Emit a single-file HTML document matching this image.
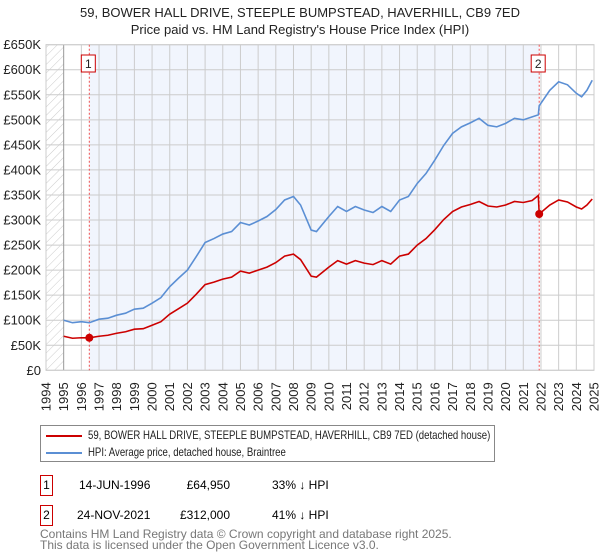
<!DOCTYPE html>
<html><head><meta charset="utf-8"><style>
body{margin:0;background:#fff;font-family:"Liberation Sans","DejaVu Sans",sans-serif;}
#wrap{position:relative;width:600px;height:560px;overflow:hidden}
.t{position:absolute;white-space:nowrap}
.sq{transform:scaleX(0.8);transform-origin:left center}
</style></head><body><div id="wrap">
<svg id="svg" width="600" height="420" style="position:absolute;left:0;top:0">
<defs><pattern id="hatch" width="6" height="6" patternUnits="userSpaceOnUse" patternTransform="rotate(45)"><line x1="0" y1="0" x2="0" y2="6" stroke="#ccc" stroke-width="1"/></pattern></defs>
<text x="300" y="17" text-anchor="middle" font-size="13" fill="#222">59, BOWER HALL DRIVE, STEEPLE BUMPSTEAD, HAVERHILL, CB9 7ED</text>
<text x="300" y="34" text-anchor="middle" font-size="13" fill="#222">Price paid vs. HM Land Registry's House Price Index (HPI)</text>
<g id="g"></g>
</svg>
<div class="t" style="left:40px;top:425px;width:453px;height:35px;border:1px solid #888">
 <div style="position:absolute;left:5px;top:9px;width:36px;height:2px;background:#cc0000"></div>
 <div class="t sq" style="left:47px;top:2px;font-size:12px;color:#222">59, BOWER HALL DRIVE, STEEPLE BUMPSTEAD, HAVERHILL, CB9 7ED (detached house)</div>
 <div style="position:absolute;left:5px;top:26px;width:36px;height:2px;background:#5b8fd4"></div>
 <div class="t sq" style="left:47px;top:19px;font-size:12px;color:#222">HPI: Average price, detached house, Braintree</div>
</div>
<div class="t" style="left:40px;top:475px;width:11px;height:19px;border:1px solid #cc0000;font-size:12px;text-align:center;line-height:19px">1</div>
<div class="t" style="left:79px;top:478px;font-size:12px">14-JUN-1996</div>
<div class="t" style="left:160px;top:478px;width:70px;text-align:right;font-size:12px">£64,950</div>
<div class="t" style="left:272px;top:478px;font-size:12px">33% ↓ HPI</div>
<div class="t" style="left:40px;top:505px;width:11px;height:19px;border:1px solid #cc0000;font-size:12px;text-align:center;line-height:19px">2</div>
<div class="t" style="left:77px;top:508px;font-size:12px">24-NOV-2021</div>
<div class="t" style="left:160px;top:508px;width:70px;text-align:right;font-size:12px">£312,000</div>
<div class="t" style="left:272px;top:508px;font-size:12px">41% ↓ HPI</div>
<div class="t" style="left:40px;top:529px;font-size:12px;color:#777;line-height:11px">Contains HM Land Registry data © Crown copyright and database right 2025.<br>This data is licensed under the Open Government Licence v3.0.</div>
</div>
<script>
const hpiYears=[1995,1995.5,1996,1996.45,1997,1997.5,1998,1998.5,1999,1999.5,2000,2000.5,2001,2001.5,2002,2002.5,2003,2003.5,2004,2004.5,2005,2005.5,2006,2006.5,2007,2007.5,2008,2008.4,2009,2009.3,2010,2010.5,2011,2011.5,2012,2012.5,2013,2013.5,2014,2014.5,2015,2015.5,2016,2016.5,2017,2017.5,2018,2018.5,2019,2019.5,2020,2020.5,2021,2021.5,2021.85,2021.9,2022.5,2023,2023.5,2024,2024.3,2024.6,2024.9];
const hpiValues=[100,95,97,95,102,104,110,114,122,124,134,145,167,184,200,227,255,263,272,277,295,290,298,307,321,340,347,330,280,277,307,327,317,327,320,315,327,317,340,347,373,393,420,449,473,486,494,503,489,486,493,503,500,506,510,528,559,576,570,553,546,559,579];
const propValues=[68,64,65,64.95,68,70,74,77,82,83,90,97,112,123,134,152,171,176,182,186,198,194,200,206,215,228,232,221,188,186,206,219,212,219,214,211,219,212,228,232,250,263,281,301,317,326,331,337,328,326,330,337,335,339,349,312,330,340,336,326,322,330,342];
const saleYears=[1996.45,2021.9];
const salePrices=[64.95,312];
const yTicks=[0,50,100,150,200,250,300,350,400,450,500,550,600,650];
const xTickYears=[];for(let y=1994;y<=2025;y++)xTickYears.push(y);
const X0=46,X1=594,Y0=370.3,Y1=44.7;
const xs=y=>X0+(y-1994)/(2025-1994)*(X1-X0);
const ys=v=>Y0-v/650*(Y0-Y1);
const g=document.getElementById('g');const NS='http://www.w3.org/2000/svg';
function mk(t,a,p){const e=document.createElementNS(NS,t);for(const k in a)e.setAttribute(k,a[k]);(p||g).appendChild(e);return e;}
let e;
e=mk('rect',{x:X0,y:Y1,width:xs(1995)-X0,height:Y0-Y1,fill:'url(#hatch)'});


e=mk('rect',{x:xs(saleYears[0]),y:Y1,width:xs(saleYears[1])-xs(saleYears[0]),height:Y0-Y1,fill:'#f1f5fd'});


yTicks.forEach(v=>{
 e=mk('line',{x1:X0,x2:X1,y1:ys(v),y2:ys(v),stroke:'#ccc','stroke-width':1});
 
 
 e=mk('text',{x:X0-5,y:ys(v)+4.5,'text-anchor':'end','font-size':'13',fill:'#222'});
 e.textContent=(v===0?'£0':'£'+v+'K');
 
 
});
xTickYears.forEach(y=>{
 e=mk('line',{x1:xs(y),x2:xs(y),y1:Y1,y2:Y0,stroke:y===1995?'#999':'#ccc','stroke-width':1});
 
 
 e=mk('text',{x:0,y:0,'text-anchor':'end','font-size':'13',fill:'#222',transform:`translate(${xs(y)+4.5},${Y0+12}) rotate(-90)`});
 e.textContent=y;
 
 
});
e=mk('rect',{x:X0,y:Y1,width:X1-X0,height:Y0-Y1,fill:'none',stroke:'#ccc'});


saleYears.forEach((y,i)=>{
 e=mk('line',{x1:xs(y),x2:xs(y),y1:Y1,y2:Y0,stroke:'#f05050','stroke-dasharray':'2,2'});
 
 
 e=mk('rect',{x:xs(y)-8,y:55,width:14,height:17,fill:'#fff',stroke:'#cc0000'});
 
 
 e=mk('text',{x:xs(y)-1,y:68,'text-anchor':'middle','font-size':'12',fill:'#222'});
 e.textContent=i+1;
 
 
});
e=mk('polyline',{points:hpiYears.map((y,i)=>xs(y)+','+ys(hpiValues[i])).join(' '),fill:'none',stroke:'#5b8fd4','stroke-width':1.6});


e=mk('polyline',{points:hpiYears.map((y,i)=>xs(y)+','+ys(propValues[i])).join(' '),fill:'none',stroke:'#cc0000','stroke-width':1.6});


saleYears.forEach((y,i)=>{
 e=mk('circle',{cx:xs(y),cy:ys(salePrices[i]),r:4,fill:'#cc0000'});
 
 
});
</script>
</body></html>
